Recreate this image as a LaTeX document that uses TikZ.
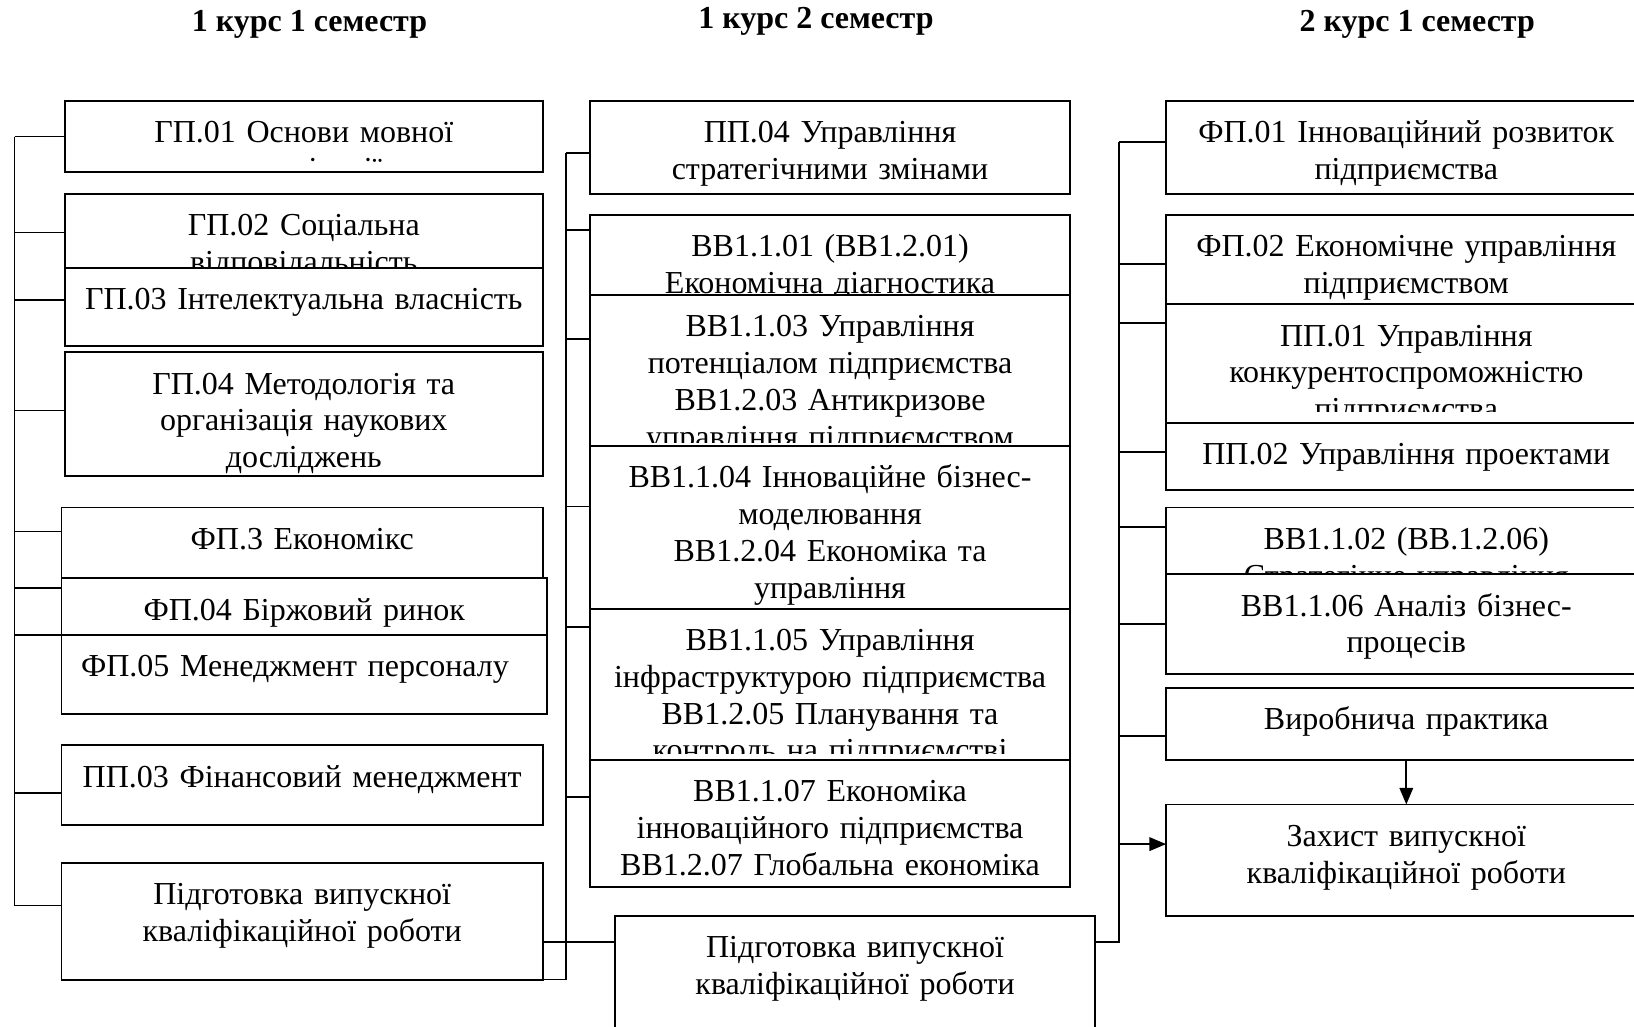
\documentclass[tikz,border=0pt]{standalone}
\usepackage{fontspec}
\setmainfont{Liberation Serif}
\usetikzlibrary{arrows.meta}
\newcommand\cbox[7]{%
  \node[boxst, minimum width=#4pt, minimum height=#5pt] (#1) at (#2,#3) {};
  \begin{scope}
    \clip (#2,#3) rectangle ++(#4,#6);
    \node[txtst, text width=#4pt] (#1t) at ({#2+#4/2},{#3+15.3}) {\strut #7};
  \end{scope}}
\begin{document}
\begin{tikzpicture}[x=1pt,y=-1pt,
  boxst/.style={draw, fill=white, line width=1.8pt, inner sep=0pt, outer sep=0pt, anchor=north west},
  txtst/.style={inner sep=0pt, align=center, font=\fontsize{30.7}{35.3}\selectfont, anchor=north},
  headst/.style={inner sep=0pt, font=\fontsize{30.7}{35.3}\selectfont\bfseries, anchor=base},
  conn/.style={line width=1.7pt},
  arr/.style={line width=1.7pt, -{Triangle[length=16pt,width=13pt]}}
]
\useasboundingbox (0,0) rectangle (1568,985);
\clip (0,0) rectangle (1568,985);

% headings
\node[headst] (h1) at (297,30) {1 курс 1 семестр};
\node[headst] (h2) at (783,27) {1 курс 2 семестр};
\node[headst] (h3) at (1360,30) {2 курс 1 семестр};

% left column
\cbox{gp01}{62}{97}{459}{68}{59}{ГП.01 Основи мовної\\ комунікації}
\cbox{gp02}{62}{186}{459}{90}{90}{ГП.02 Соціальна\\ відповідальність}
\cbox{gp03}{62}{257}{459}{75}{75}{ГП.03 Інтелектуальна власність}
\cbox{gp04}{62}{338}{459}{119}{119}{ГП.04 Методологія та\\ організація наукових\\ досліджень}
\cbox{fp3}{59}{487}{462}{90}{90}{ФП.3 Економікс}
\cbox{fp04}{59}{555}{466}{54}{54}{ФП.04 Біржовий ринок}
\cbox{fp05}{59}{609}{466}{76}{76}{ФП.05 Менеджмент персоналу\rule{18pt}{0pt}}
\cbox{pp03}{59}{715}{462}{77}{77}{ПП.03 Фінансовий менеджмент}
\cbox{pidL}{59}{828}{462}{112}{112}{Підготовка випускної\\ кваліфікаційної роботи}

% middle column
\cbox{pp04}{566}{97}{461}{89}{89}{ПП.04 Управління\\ стратегічними змінами}
\cbox{vv101}{566}{206}{461}{90}{90}{ВВ1.1.01 (ВВ1.2.01)\\ Економічна діагностика}
\cbox{vv103}{566}{283}{461}{145}{142}{ВВ1.1.03 Управління\\ потенціалом підприємства\\ ВВ1.2.03 Антикризове\\ управління підприємством}
\cbox{vv104}{566}{428}{461}{156}{156}{ВВ1.1.04 Інноваційне бізнес-\\ моделювання\\ ВВ1.2.04 Економіка та\\ управління}
\cbox{vv105}{566}{584}{461}{145}{139}{ВВ1.1.05 Управління\\ інфраструктурою підприємства\\ ВВ1.2.05 Планування та\\ контроль на підприємстві}
\cbox{vv107}{566}{729}{461}{122}{122}{ВВ1.1.07 Економіка\\ інноваційного підприємства\\ ВВ1.2.07 Глобальна економіка}
\cbox{pidM}{590}{879}{461}{130}{130}{Підготовка випускної\\ кваліфікаційної роботи}

% right column
\cbox{fp01}{1119}{97}{461}{89}{89}{ФП.01 Інноваційний розвиток\\ підприємства}
\cbox{fp02}{1119}{206}{461}{95}{95}{ФП.02 Економічне управління\\ підприємством}
\cbox{pp01}{1119}{292}{461}{114}{103}{ПП.01 Управління\\ конкурентоспроможністю\\ підприємства}
\cbox{pp02}{1119}{406}{461}{64}{64}{ПП.02 Управління проектами}
\cbox{vv102}{1119}{487}{461}{90}{90}{ВВ1.1.02 (ВВ.1.2.06)\\ Стратегічне управління}
\cbox{vv106}{1119}{551}{461}{96}{96}{ВВ1.1.06 Аналіз бізнес-\\ процесів}
\cbox{vyr}{1119}{660}{461}{69}{69}{Виробнича практика}
\cbox{zah}{1119}{772}{461}{107}{107}{Захист випускної\\ кваліфікаційної роботи}

% bus coordinates
\coordinate (L) at (14,0);
\coordinate (M) at (543,0);
\coordinate (R) at (1074,0);

% left connectors
\foreach \n/\d in {gp01/34, gp02/37, gp03/31, gp04/56, fp3/23, fp04/9, fp05/0, pp03/46, pidL/41} {
  \path (\n.north west) ++(0,\d) coordinate (\n-c);
  \draw[conn] (\n-c -| L) -- (\n-c);
}
\draw[conn] (gp01-c -| L) -- (pidL-c -| L);

% middle connectors
\foreach \n/\d in {pp04/50, vv101/15, vv103/42, vv104/58, vv105/18, vv107/36} {
  \path (\n.north west) ++(0,\d) coordinate (\n-c);
  \draw[conn] (\n-c -| M) -- (\n-c);
}
\draw[conn] (pp04-c -| M) -- (M |- pidL.south east) -- (pidL.south east);

% right connectors
\foreach \n/\d in {fp01/39, fp02/47, pp01/18, pp02/28, vv102/19, vv106/48, vyr/46} {
  \path (\n.north west) ++(0,\d) coordinate (\n-c);
  \draw[conn] (\n-c -| R) -- (\n-c);
}
\path (pidM.north west) ++(0,25) coordinate (m1);
\path (pidM.north east) ++(0,25) coordinate (m2);
\draw[conn] (pidL.east |- m1) -- (m1);
\draw[conn] (fp01-c -| R) -- (R |- m2) -- (m2);
\path (zah.north west) ++(0,38) coordinate (zah-c);
\draw[arr] (zah-c -| R) -- (zah-c);
\draw[arr] (vyr.south) -- (zah.north);
\end{tikzpicture}
\end{document}
